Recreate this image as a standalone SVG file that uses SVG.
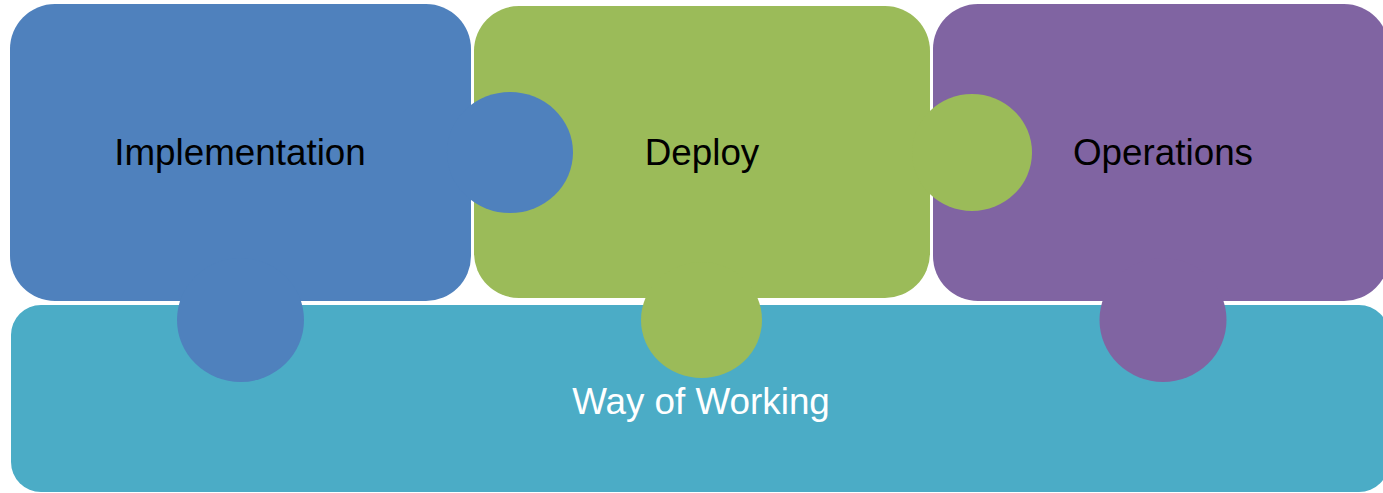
<svg xmlns="http://www.w3.org/2000/svg" width="1383" height="493" viewBox="0 0 1383 493">
<style>
.lbl{font-family:"Liberation Sans",Arial,sans-serif;font-size:36.8px;text-anchor:middle}
.dark{fill:#000000}
.light{fill:#FFFFFF}
.blue{fill:#4F81BD}
.green{fill:#9BBB59}
.purple{fill:#8064A2}
.teal{fill:#4BACC6}
</style>
<rect width="1383" height="493" fill="#FFFFFF"/>
<g id="way-of-working">
<rect class="teal" x="11" y="305" width="1378" height="187" rx="30" ry="30"/>
<text class="lbl light" x="701" y="414">Way of Working</text>
</g>
<g id="operations">
<rect class="purple" x="933" y="4" width="456" height="297" rx="45" ry="45"/>
<ellipse class="purple" cx="1163" cy="320" rx="63.5" ry="62"/>
<text class="lbl dark" x="1163" y="165">Operations</text>
</g>
<g id="deploy">
<rect class="green" x="474" y="6" width="456" height="292" rx="45" ry="45"/>
<ellipse class="green" cx="972" cy="152.5" rx="60" ry="58.5"/>
<ellipse class="green" cx="701.5" cy="320" rx="60.5" ry="58"/>
<text class="lbl dark" x="702" y="165">Deploy</text>
</g>
<g id="implementation">
<rect class="blue" x="10" y="4" width="461" height="297" rx="45" ry="45"/>
<ellipse class="blue" cx="510" cy="152.5" rx="63" ry="60.5"/>
<ellipse class="blue" cx="240.5" cy="320" rx="63.5" ry="62"/>
<text class="lbl dark" x="240" y="165">Implementation</text>
</g>
<g id="connectors"/>
</svg>
